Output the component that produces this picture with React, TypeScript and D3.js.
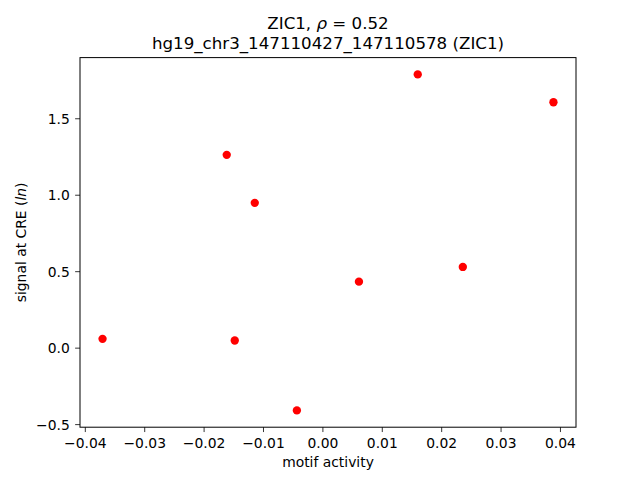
import React from "react";
import * as d3 from "d3";

const motifActivity = [-0.0371, -0.01619, -0.01484, -0.01147, -0.00438, 0.00607, 0.01597, 0.02356, 0.03882];
const signalAtCRE = [0.061, 1.264, 0.05, 0.95, -0.407, 0.435, 1.79, 0.531, 1.608];
const xTicks = [-0.04, -0.03, -0.02, -0.01, 0.0, 0.01, 0.02, 0.03, 0.04];
const yTicks = [-0.5, 0.0, 0.5, 1.0, 1.5];

const W = 640;
const H = 480;
const left = 80;
const right = 576;
const top = 57.6;
const bottom = 427.2;
const FONT = "DejaVu Sans, sans-serif";

export default function App() {
  const [x0, x1] = d3.extent(motifActivity) as [number, number];
  const [y0, y1] = d3.extent(signalAtCRE) as [number, number];
  const xp = (x1 - x0) * 0.05;
  const yp = (y1 - y0) * 0.05;
  const x = d3.scaleLinear().domain([x0 - xp, x1 + xp]).range([left, right]);
  const y = d3.scaleLinear().domain([y0 - yp, y1 + yp]).range([bottom, top]);
  const fx = d3.format(".2f");
  const fy = d3.format(".1f");
  const tickLen = 4.86;
  const fs = 13.89;

  return (
    <svg width={W} height={H} style={{ position: "absolute", left: 0, top: 0 }} fontFamily={FONT}>
      <rect x={0} y={0} width={W} height={H} fill="white" />
      {motifActivity.map((v, i) => (
        <circle key={i} cx={x(v)} cy={y(signalAtCRE[i])} r={4.17} fill="#ff0000" />
      ))}
      <rect x={left} y={top} width={right - left} height={bottom - top} fill="none" stroke="black" strokeWidth={1} />
      {xTicks.map((t) => (
        <g key={"x" + t}>
          <line x1={x(t)} x2={x(t)} y1={bottom} y2={bottom + tickLen} stroke="black" strokeWidth={0.8} />
          <text x={x(t)} y={bottom + 20.5} fontSize={fs} textAnchor="middle" fill="black">
            {fx(t)}
          </text>
        </g>
      ))}
      {yTicks.map((t) => (
        <g key={"y" + t}>
          <line x1={left - tickLen} x2={left} y1={y(t)} y2={y(t)} stroke="black" strokeWidth={0.8} />
          <text x={left - 2 * tickLen - 0.5} y={y(t)} dy="0.36em" fontSize={fs} textAnchor="end" fill="black">
            {fy(t)}
          </text>
        </g>
      ))}
      <text x={(left + right) / 2} y={467} fontSize={fs} textAnchor="middle" fill="black">
        motif activity
      </text>
      <text
        transform={`translate(26,${(top + bottom) / 2}) rotate(-90)`}
        fontSize={fs}
        textAnchor="middle"
        fill="black"
      >
        signal at CRE (<tspan fontStyle="italic">ln</tspan>)
      </text>
      <text x={(left + right) / 2} y={29} fontSize={16.67} textAnchor="middle" fill="black">
        ZIC1, <tspan fontStyle="italic">ρ</tspan> = 0.52
      </text>
      <text x={(left + right) / 2} y={49} fontSize={16.67} textAnchor="middle" fill="black">
        hg19_chr3_147110427_147110578 (ZIC1)
      </text>
    </svg>
  );
}
